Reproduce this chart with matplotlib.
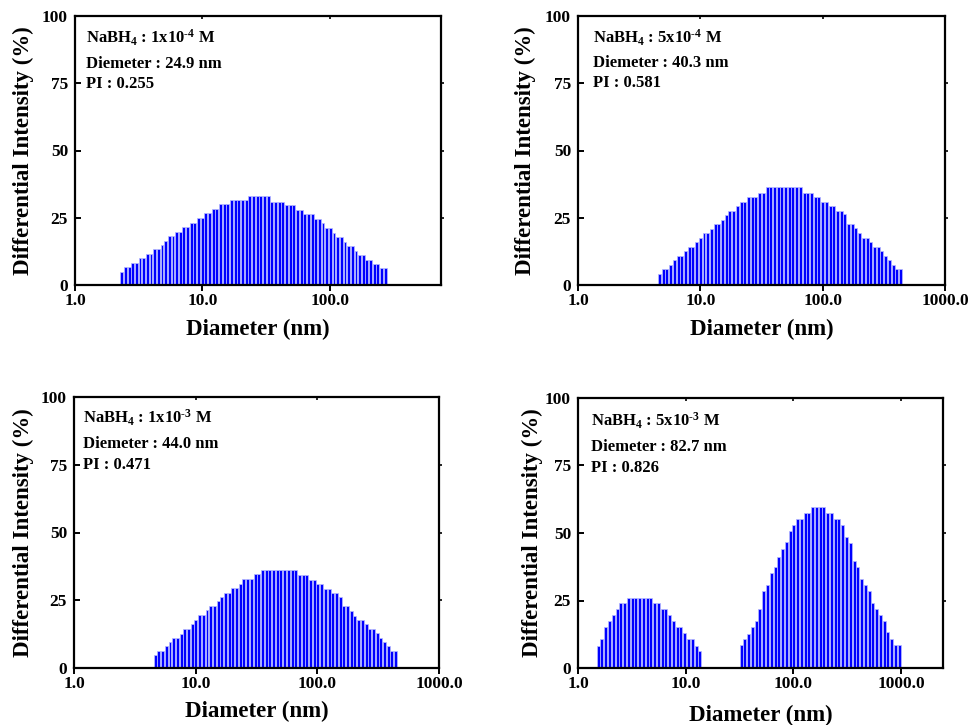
import numpy as np
import matplotlib
matplotlib.use("Agg")
import matplotlib.pyplot as plt
from matplotlib.ticker import FixedLocator, FixedFormatter, NullLocator

plt.rcParams["font.family"] = ["Liberation Serif", "DejaVu Serif"]
plt.rcParams["font.weight"] = "bold"
plt.rcParams["mathtext.fontset"] = "custom"
plt.rcParams["mathtext.rm"] = "Liberation Serif:bold"
plt.rcParams["mathtext.it"] = "Liberation Serif:bold"
plt.rcParams["mathtext.bf"] = "Liberation Serif:bold"

# ---- data: DLS intensity distributions (log-spaced diameter bins) ----
# each sample: first bin edge (nm), bin width (decades), bar heights (%)
s1_first_edge = 2.25
s1_bin_width = 0.02871
s1_heights = [5.0, 6.6, 6.6, 8.3, 8.3, 10.0, 10.0, 11.5, 11.5, 13.3, 13.3, 14.7,
              16.5, 18.2, 18.2, 19.8, 19.8, 21.4, 21.4, 23.2, 23.2, 24.8, 24.8,
              26.6, 26.6, 28.1, 28.1, 30.0, 30.0, 30.0, 31.6, 31.6, 31.6, 31.6,
              31.6, 33.1, 33.1, 33.1, 33.1, 33.1, 33.1, 31.0, 31.0, 31.0, 31.0,
              29.6, 29.6, 29.6, 27.9, 27.9, 26.3, 26.3, 26.3, 24.4, 24.4, 22.9,
              21.1, 21.1, 19.5, 17.7, 17.7, 16.1, 14.5, 14.5, 12.8, 11.0, 11.0,
              9.4, 9.4, 7.8, 7.8, 6.3, 6.3]

s2_first_edge = 4.48
s2_bin_width = 0.0303
s2_heights = [4.2, 6.1, 6.1, 7.4, 9.2, 10.8, 10.8, 12.6, 14.1, 14.1, 15.9, 17.6,
              19.3, 19.3, 20.9, 22.6, 22.6, 24.2, 26.0, 27.5, 27.5, 29.4, 31.0,
              31.0, 32.7, 32.7, 32.7, 34.3, 34.3, 36.3, 36.3, 36.3, 36.3, 36.3,
              36.3, 36.3, 36.3, 36.3, 36.3, 34.3, 34.3, 34.3, 32.7, 32.7, 31.0,
              31.0, 29.4, 29.4, 27.5, 27.5, 26.3, 22.8, 22.8, 21.1, 19.3, 17.6,
              17.6, 15.9, 14.1, 14.1, 12.6, 10.8, 9.2, 7.4, 6.1, 6.1]

s3_first_edge = 4.49
s3_bin_width = 0.0304
s3_heights = [4.7, 6.2, 6.2, 8.0, 9.5, 11.2, 11.2, 12.7, 14.5, 14.5, 16.1, 17.8,
              19.4, 19.4, 21.3, 22.8, 22.8, 24.6, 26.2, 27.8, 27.8, 29.4, 29.4,
              31.1, 32.7, 32.7, 32.7, 34.6, 34.6, 36.0, 36.0, 36.0, 36.0, 36.0,
              36.0, 36.0, 36.0, 36.0, 36.0, 34.2, 34.2, 34.2, 32.6, 32.6, 30.9,
              30.9, 29.3, 29.3, 27.7, 27.7, 26.2, 22.8, 22.8, 21.0, 19.3, 17.8,
              17.8, 16.1, 14.5, 14.5, 12.9, 11.2, 9.6, 8.0, 6.3, 6.3]

s4_first_edge = 1.48
s4_bin_width = 0.03494
s4_heights = [8.3, 10.8, 15.1, 17.4, 19.6, 21.7, 24.0, 24.0, 26.1, 26.1, 26.1,
              26.1, 26.1, 26.1, 26.1, 24.0, 24.0, 21.7, 21.7, 19.5, 17.3, 15.1,
              15.1, 12.9, 10.7, 10.7, 8.3, 6.2,
              0, 0, 0, 0, 0, 0, 0, 0, 0, 0,
              8.4, 10.9, 12.7, 15.2, 17.5, 21.8, 28.5, 30.9, 35.3, 37.5, 41.2,
              44.1, 46.8, 50.9, 53.0, 55.2, 55.2, 57.5, 57.5, 59.8, 59.8, 59.8,
              59.8, 57.5, 57.5, 55.2, 55.2, 53.0, 48.6, 46.4, 39.7, 37.5, 33.0,
              30.9, 28.5, 24.0, 21.8, 19.6, 17.5, 13.2, 10.6, 8.4, 8.4]

conc_labels = ["NaBH$_{4}$ : 1x10$^{\u2010 4}$ M", "NaBH$_{4}$ : 5x10$^{\u2010 4}$ M",
               "NaBH$_{4}$ : 1x10$^{\u2010 3}$ M", "NaBH$_{4}$ : 5x10$^{\u2010 3}$ M"]
mean_diameters = ["24.9", "40.3", "44.0", "82.7"]
poly_index = ["0.255", "0.581", "0.471", "0.826"]

x_tick_values = [1.0, 10.0, 100.0, 1000.0]
x_tick_labels = ["1.0", "10.0", "100.0", "1000.0"]
y_tick_values = [0, 25, 50, 75, 100]
y_tick_labels = ["0", "25", "50", "75", "100"]

samples = [(s1_first_edge, s1_bin_width, s1_heights),
           (s2_first_edge, s2_bin_width, s2_heights),
           (s3_first_edge, s3_bin_width, s3_heights),
           (s4_first_edge, s4_bin_width, s4_heights)]

# ---- layout (pixels: left, top, right, bottom) ----
W, H = 968, 725
boxes = [(75, 16, 441, 285), (578, 16, 945, 285),
         (74, 397, 439, 668), (578, 398, 943, 668)]
x_max = [743, 1000, 1000, 2455]
ylab_x = [-0.112, -0.114, -0.110, -0.096]
xlab_y = [-0.126, -0.126, -0.122, -0.137]
text_x = [0.030, 0.041, 0.025, 0.036]
text_y = [(0.897, 0.807, 0.732), (0.900, 0.810, 0.736),
          (0.902, 0.812, 0.734), (0.894, 0.804, 0.726)]

fig = plt.figure(figsize=(W / 100, H / 100), dpi=100)

for k, (first, bw, heights) in enumerate(samples):
    l, t, r, b = boxes[k]
    ax = fig.add_axes([l / W, 1 - b / H, (r - l) / W, (b - t) / H])
    ax.set_xscale("log")

    h = np.asarray(heights, dtype=float)
    idx = np.arange(len(h))
    log0 = np.log10(first)
    frac = 0.80
    lo = 10 ** (log0 + (idx + (1 - frac) / 2) * bw)
    hi = 10 ** (log0 + (idx + 1 - (1 - frac) / 2) * bw)
    keep = h > 0
    ax.bar(lo[keep], h[keep], width=(hi - lo)[keep], align="edge",
           color="#0000ff", edgecolor="#b4b8ff", linewidth=0.55, zorder=2)

    ax.set_xlim(1.0, x_max[k])
    ax.set_ylim(0, 100)

    ax.xaxis.set_major_locator(FixedLocator(x_tick_values))
    ax.xaxis.set_major_formatter(FixedFormatter(x_tick_labels))
    ax.xaxis.set_minor_locator(NullLocator())
    ax.yaxis.set_major_locator(FixedLocator(y_tick_values))
    ax.yaxis.set_major_formatter(FixedFormatter(y_tick_labels))

    for s in ax.spines.values():
        s.set_linewidth(1.6)
    # inward ticks on the value axis, outward on the diameter axis
    ax.tick_params(axis="y", which="major", left=True, right=False,
                   direction="in", length=4, width=1.4, pad=5, labelsize=12.5)
    ax.tick_params(axis="x", which="major", bottom=True, top=False,
                   direction="out", length=4, width=1.4, pad=2, labelsize=12.5)
    # small mirrored ticks on the opposite spines
    sec_y = ax.secondary_yaxis("right")
    sec_y.yaxis.set_major_locator(FixedLocator(y_tick_values[1:-1]))
    sec_y.tick_params(direction="out", length=2, width=1.2, labelright=False)
    sec_y.spines["right"].set_visible(False)
    sec_x = ax.secondary_xaxis("top")
    sec_x.xaxis.set_major_locator(FixedLocator(x_tick_values[1:]))
    sec_x.xaxis.set_minor_locator(NullLocator())
    sec_x.tick_params(direction="in", length=2, width=1.2, labeltop=False)
    sec_x.spines["top"].set_visible(False)

    for lab in ax.get_xticklabels() + ax.get_yticklabels():
        lab.set_fontweight("bold")

    ax.set_ylabel("Differential Intensity (%)", fontsize=16.5, fontweight="bold")
    ax.set_xlabel("Diameter (nm)", fontsize=16.5, fontweight="bold")
    ax.yaxis.set_label_coords(ylab_x[k], 0.5)
    ax.xaxis.set_label_coords(0.5, xlab_y[k])

    ty = text_y[k]
    ax.text(text_x[k], ty[0], conc_labels[k], transform=ax.transAxes,
            fontsize=12, fontweight="bold", va="baseline")
    ax.text(text_x[k], ty[1], "Diemeter : " + mean_diameters[k] + " nm",
            transform=ax.transAxes, fontsize=12, fontweight="bold", va="baseline")
    ax.text(text_x[k], ty[2], "PI : " + poly_index[k], transform=ax.transAxes,
            fontsize=12, fontweight="bold", va="baseline")

fig.savefig("out.png", dpi=100)
